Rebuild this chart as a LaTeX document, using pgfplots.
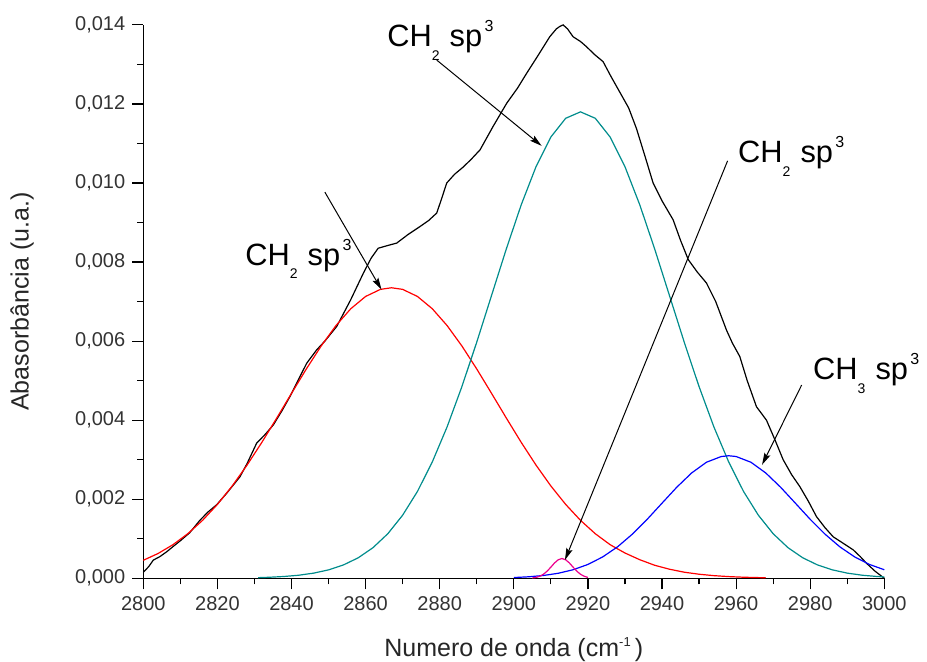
\documentclass[border=0pt]{standalone}
\usepackage{fontspec}
\setmainfont{Liberation Sans}
\usepackage{pgfplots}
\pgfplotsset{compat=1.18}
\usetikzlibrary{arrows.meta}

\definecolor{fitteal}{RGB}{0,140,140}
\newcommand{\lab}[2]{CH\raisebox{-6.7pt}{\fontsize{7}{8}\selectfont #1}\hspace{5pt}sp\hspace{1.2pt}\raisebox{7.5pt}{\fontsize{8}{9}\selectfont #2}}

\begin{document}
\begin{tikzpicture}
\begin{axis}[
    scale only axis,
    width=370.5pt, height=276.7pt,
    xmin=2800, xmax=3000,
    ymin=0, ymax=0.014,
    axis x line*=bottom, axis y line*=left,
    axis line style={line width=0.6pt},
    tick align=outside,
    major tick length=5.5pt, minor tick length=3pt,
    every tick/.style={line width=0.6pt, black},
    xtick={2800,2820,...,3000},
    ytick={0,0.002,...,0.0141},
    minor x tick num=1, minor y tick num=1,
    scaled y ticks=false,
    /pgf/number format/assume math mode=true,
    x tick label style={/pgf/number format/set thousands separator={}},
    y tick label style={/pgf/number format/.cd, fixed, fixed zerofill, precision=3, use comma},
    tick label style={font=\fontsize{10}{11}\selectfont, text=black!80},
    label style={font=\fontsize{12.5}{14}\selectfont, text=black!85},
    xlabel={Numero de onda (cm\raisebox{5pt}{\fontsize{6.5}{7}\selectfont -1}\,)},
    ylabel={Abasorbância (u.a.)},
    xlabel style={at={(axis description cs:0.5,-0.1296)}, anchor=center},
    ylabel style={at={(axis description cs:-0.1637,0.5)}, anchor=center},
    clip=false,
]
% measured spectrum
\addplot[black, line width=0.6pt] coordinates {
(2800,0.00015) (2801.5,0.0003) (2802.7,0.00046) (2804.5,0.00055) (2806.3,0.00067)
(2808,0.00080) (2810,0.00095) (2812.5,0.00115) (2815.3,0.00147) (2817.5,0.00168)
(2819.8,0.00186) (2822.5,0.00215) (2826.1,0.00257) (2828,0.00290) (2830.6,0.00342)
(2833,0.00365) (2835.1,0.00388) (2837.5,0.00425) (2839.6,0.00460) (2842,0.00505)
(2844.1,0.00544) (2846.8,0.00578) (2849,0.00600) (2852.2,0.00637) (2856,0.00705)
(2859.4,0.00772) (2861.5,0.00810) (2863.4,0.00835) (2866,0.00842) (2868.4,0.00848)
(2871.5,0.00870) (2874.7,0.00890) (2877,0.00905) (2879.2,0.00924) (2880.5,0.00960)
(2881.9,0.01000) (2884,0.01022) (2886.3,0.01040) (2888.5,0.01060) (2890.9,0.01084)
(2894.4,0.01143) (2898.1,0.01202) (2901,0.01240) (2903.5,0.01278) (2906.5,0.01322)
(2909.7,0.01370) (2911.5,0.01390) (2912.4,0.01396) (2913.3,0.01400) (2914.5,0.01390)
(2916,0.01370) (2918,0.01358) (2919.6,0.01345) (2921.8,0.01325) (2924.1,0.01307)
(2926.2,0.01270) (2928.6,0.01230) (2931,0.01190) (2933.1,0.01138) (2935.5,0.01065)
(2937.6,0.01000) (2940,0.00955) (2943,0.00907) (2945,0.00855) (2947.1,0.00806)
(2949.5,0.00775) (2952,0.00747) (2954.5,0.00700) (2957.4,0.00628) (2959,0.00595)
(2961,0.00561) (2963,0.00500) (2965.5,0.00434) (2968.2,0.00400) (2970.5,0.00350)
(2972.7,0.00300) (2975,0.00262) (2977.2,0.00232) (2979.5,0.00195) (2981.7,0.00156)
(2984,0.00128) (2986.2,0.00105) (2989,0.00088) (2991.6,0.00072) (2993.5,0.00055)
(2995.2,0.00038) (2997.5,0.00018) (3000,0.00000)
};
% fitted band at 2867
\addplot[red, line width=0.6pt] coordinates {
(2800,0.000455) (2804,0.000628) (2808,0.000850) (2812,0.001127) (2816,0.001466)
(2820,0.001869) (2824,0.002336) (2828,0.002863) (2832,0.003439) (2836,0.004051)
(2840,0.004678) (2844,0.005295) (2848,0.005876) (2852,0.006393) (2856,0.006819)
(2860,0.007130) (2864,0.007309) (2867,0.007350) (2870,0.007309) (2874,0.007130)
(2878,0.006819) (2882,0.006393) (2886,0.005876) (2890,0.005295) (2894,0.004678)
(2898,0.004051) (2902,0.003439) (2906,0.002863) (2910,0.002336) (2914,0.001869)
(2918,0.001466) (2922,0.001127) (2926,0.000850) (2930,0.000640) (2934,0.000470)
(2938,0.000330) (2942,0.000230) (2946,0.000154) (2950,0.000103) (2954,0.000067)
(2958,0.000043) (2962,0.000027) (2968,0.000013)
};
% fitted band at 2918
\addplot[fitteal, line width=0.6pt] coordinates {
(2831,0.000016) (2834,0.000026) (2838,0.000046) (2842,0.000078) (2846,0.000131)
(2850,0.000213) (2854,0.000337) (2858,0.000518) (2862,0.000775) (2866,0.001128)
(2870,0.001597) (2874,0.002198) (2878,0.002943) (2882,0.003831) (2886,0.004851)
(2890,0.005974) (2894,0.007157) (2898,0.008338) (2902,0.009448) (2906,0.010414)
(2910,0.011163) (2914,0.011637) (2918,0.011800) (2922,0.011637) (2926,0.011163)
(2930,0.010414) (2934,0.009448) (2938,0.008338) (2942,0.007157) (2946,0.005974)
(2950,0.004851) (2954,0.003831) (2958,0.002943) (2962,0.002198) (2966,0.001597)
(2970,0.001128) (2974,0.000775) (2978,0.000518) (2982,0.000337) (2986,0.000213)
(2990,0.000131) (2994,0.000078) (2998,0.000046) (3000,0.000034)
};
% fitted band at 2958
\addplot[blue, line width=0.6pt] coordinates {
(2900,0.000019) (2904,0.000038) (2908,0.000071) (2912,0.000127) (2916,0.000216)
(2920,0.000350) (2924,0.000541) (2928,0.000796) (2932,0.001117) (2936,0.001492)
(2940,0.001900) (2944,0.002305) (2948,0.002665) (2952,0.002936) (2956,0.003081)
(2958,0.003100) (2960,0.003081) (2964,0.002936) (2968,0.002665) (2972,0.002305)
(2976,0.001900) (2980,0.001492) (2984,0.001117) (2988,0.000796) (2992,0.000541)
(2996,0.000350) (3000,0.000216)
};
% small band at 2913
\addplot[magenta, line width=0.6pt] coordinates {
(2905,0.000008) (2906,0.000022) (2907,0.000051) (2908,0.000102) (2909,0.000181)
(2910,0.000282) (2911,0.000388) (2912,0.000469) (2913,0.000500) (2914,0.000469)
(2915,0.000388) (2916,0.000282) (2917,0.000181) (2918,0.000102) (2919,0.000051)
(2920,0.000022)
};
% annotations
\tikzset{ann/.style={-{Stealth[length=6pt,width=3.2pt,inset=1pt]}, line width=0.5pt, black}}
\draw[ann] (axis cs:2849,0.00977) -- (axis cs:2864.3,0.0073);
\draw[ann] (axis cs:2879.2,0.01311) -- (axis cs:2907.5,0.01094);
\draw[ann] (axis cs:2957.7,0.01056) -- (axis cs:2913.8,0.00046);
\draw[ann] (axis cs:2977.7,0.00489) -- (axis cs:2967,0.00287);
\tikzset{lbl/.style={anchor=base west, inner sep=0pt, font=\fontsize{15.4}{17}\selectfont}}
\node[lbl] at (axis cs:2827.44,0.007925) {\lab{2}{3}};
\node[lbl] at (axis cs:2865.76,0.013444) {\lab{2}{3}};
\node[lbl] at (axis cs:2960.47,0.010508) {\lab{2}{3}};
\node[lbl] at (axis cs:2980.71,0.005018) {\lab{3}{3}};
\end{axis}
\pgfresetboundingbox
\path[use as bounding box] (-71.65pt,-41.85pt) rectangle (391.85pt,289.15pt);
\end{tikzpicture}
\end{document}
